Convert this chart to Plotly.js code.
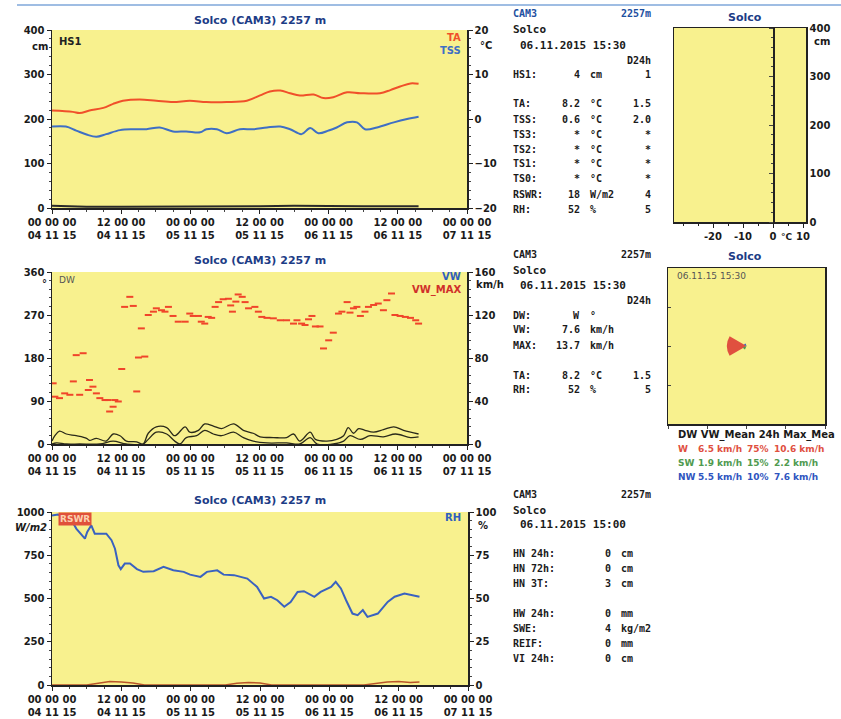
<!DOCTYPE html>
<html><head><meta charset="utf-8">
<script src="https://cdn.plot.ly/plotly-3.0.1.min.js"></script>
<style>html,body{margin:0;padding:0;background:#fff}#c{width:841px;height:719px}</style>
</head><body><div id="c"></div>
<script>
// ---------- data (hours since 04.11.15 00:00) ----------
const timeTicks = [0,12,24,36,48,60,72];
const timeTickText = ['00 00 00<br>04 11 15','12 00 00<br>04 11 15','00 00 00<br>05 11 15','12 00 00<br>05 11 15','00 00 00<br>06 11 15','12 00 00<br>06 11 15','00 00 00<br>07 11 15'];

const taHours = [0,3.6,4.8,6.5,8.9,10.6,12.3,15.2,18.1,21,23.9,26.8,30.3,33.8,36.1,37.8,39.6,41.3,43,45.4,47.1,48.8,51.2,53.5,56.9,58.7,60.4,62.2,63.6];
const taValues = [1.9,1.6,1.35,1.9,2.5,3.4,4.1,4.4,4.1,3.8,4.1,3.8,3.8,4.1,5.3,6.2,6.4,5.8,5.3,5.5,4.7,4.9,6.0,5.8,5.8,6.5,7.3,8.0,7.9];

const tssHours = [0,2.4,4.2,6,7.7,9.4,11.8,14.1,16.4,18.7,21,23.3,25.7,26.8,28.6,30.3,32.6,34.9,37.3,39.6,41.3,43.3,44.8,46.2,48,49.4,51.2,52.9,54.3,56.4,59.3,61.6,63.6];
const tssValues = [-1.7,-1.7,-2.6,-3.5,-4,-3.4,-2.5,-2.3,-2.3,-1.9,-2.8,-2.8,-3.0,-2.3,-2.3,-3.2,-2.3,-2.3,-1.9,-1.7,-2.3,-3.4,-2.0,-3.2,-2.6,-1.9,-0.75,-0.75,-2.3,-1.9,-0.75,0,0.5];

const hsHours = [0,6,12,18,24,30,36,42,48,54,60,63.6];
const hsValues = [5,3,3,3,4,3,4,5,4,4,4,4];

const dwHours = [0.2,0.5,1.3,2.2,3.1,3.7,4.2,4.8,5.4,6.3,6.5,7.1,7.7,8.3,9.2,9.7,10,10.6,10.9,11.5,12.1,12.6,13.5,14.1,14.7,15,15.5,16.1,16.7,17.6,18.1,19,19.6,20.2,21,21.9,23.1,23.9,24.5,25.4,25.9,26.5,27.1,27.7,28.3,28.9,29.7,30.6,31,31.3,31.9,32.3,33,33.5,34.1,35.2,35.8,36.4,37.3,38.4,39.6,40.7,41.9,42.5,43.3,43.9,44.5,45.1,45.7,46.5,47.1,48,48.8,49.7,50.3,51.2,51.7,52.3,52.9,53.5,54.3,54.9,55.8,56.6,57.5,58.1,58.9,59.5,60.4,61.3,62.2,63.1,63.6];
const dwValues = [127,99,96,106,103,131,186,103,190,113,134,120,106,96,92,92,68,78,92,89,157,287,308,289,110,181,242,183,270,277,284,280,277,287,268,256,256,273,268,268,256,252,266,264,287,297,303,304,290,277,298,313,308,297,284,287,277,266,264,263,259,259,252,259,252,249,261,268,246,246,200,217,233,273,277,297,275,284,287,268,277,287,291,294,280,301,315,270,268,266,264,259,252];

const vwMaxHours = [0,0.5,1.3,2.5,4.2,6,6.5,7.7,9.4,10.6,11.8,12.9,14.7,15.8,16.7,18.1,19.9,21.3,23.1,23.9,25.4,26.5,28,29.4,31.5,33.2,34.9,36.1,38.4,40.7,41.9,43,44.8,45.7,47.7,49.4,50.6,51.4,52.3,53.2,54.3,55.8,57.5,59.3,61,63.6];
const vwMaxValues = [2.7,7.7,12,9.3,7.7,5.3,3.3,5.3,2.7,9.3,7.7,2.7,2,0,10,16,15.3,7.7,16,11,12.7,18.7,16.7,14.3,18.7,12.7,10,6.7,6,6,9.3,2.7,11,4.3,2.7,4.3,7.7,15.3,10,14.3,12.7,11,13.3,16,12.7,9.3];

const vwHours = [0,0.8,2.5,4.8,8.3,10.6,12.9,15.8,16.7,18.1,19.9,21.3,22.2,23.3,25.1,26.5,28,29.4,31.5,33.2,34.9,37.3,40.7,43,44.8,46,48.8,50.6,51.7,53.5,55.2,57.5,59.6,62.2,63.6];
const vwValues = [0,1,0,0,0,2.7,0,0,4.3,11,9.3,2.7,0,6,7.7,12.7,9.3,7.7,11,6,2.7,1,1,0,6,0,0,2.7,7.7,4.3,7.7,6.7,9.3,6,6.7];

const rhHours = [0,1,1.9,3.1,4.2,5.7,6.1,6.8,7.4,8.3,9.4,10.3,10.9,11.5,11.9,12.6,13.5,14.7,15.8,17.6,19.3,21,22.8,23.9,25.7,26.8,28.6,29.7,31.5,33.8,35.5,36.7,37.9,39,40.2,41.3,42.5,43.6,45.4,46.5,48.3,49.1,50,50.9,52,52.9,53.8,54.6,56.4,58.1,59.3,61,62.2,63.6];
const rhValues = [98,98.5,97.5,97,90.4,84.6,88.5,92.3,87.5,87.5,87.5,83.7,78.8,69.2,67,70.2,70.2,67,65.4,65.8,68.3,66.3,65.4,63.8,62.5,65.4,66.3,63.8,63.5,61.5,56.7,50,51,49,45.2,48,53.8,54.2,51,53.8,56.7,59.6,55.8,49,41.3,40.4,43.3,39.4,41.3,48,51,52.9,51.9,51];

const rswrHours = [0,6,8,10,12,14,16,30,32,34,36,38,54,56,58,60,62,63.6];
const rswrValues = [0,0,10,20,18,12,0,0,10,15,12,0,0,8,18,20,15,18];

// wind rose (24h)
const roseDirs = ['W','SW','NW'];
const roseAngles = [270,225,315];
const roseFreq = [75,15,10];
const roseMean = ['6.5 km/h','1.9 km/h','5.5 km/h'];
const roseMax = ['10.6 km/h','2.2 km/h','7.6 km/h'];
const roseColors = ['#e0503f','#4f9a4f','#2f55c0'];

// text panels
const p1Labels = ['HS1:','TA:','TSS:','TS3:','TS2:','TS1:','TS0:','RSWR:','RH:'];
const p1Values = ['4','8.2','0.6','*','*','*','*','18','52'];
const p1Units  = ['cm','°C','°C','°C','°C','°C','°C','W/m2','%'];
const p1D24    = ['1','1.5','2.0','*','*','*','*','4','5'];
const p2Labels = ['DW:','VW:','MAX:','TA:','RH:'];
const p2Values = ['W','7.6','13.7','8.2','52'];
const p2Units  = ['°','km/h','km/h','°C','%'];
const p2D24    = ['','','','1.5','5'];
const p3Labels = ['HN 24h:','HN 72h:','HN 3T:','HW 24h:','SWE:','REIF:','VI 24h:'];
const p3Values = ['0','0','3','0','4','0','0'];
const p3Units  = ['cm','cm','cm','mm','kg/m2','mm','cm'];

// ---------- layout helpers ----------
const W = 841, H = 719;
const fx = p => p / W;
const fy = p => 1 - p / H;
const YEL = '#f8f18e';
const TXT = '#1a1a1a';
const tickFont = {family:'DejaVu Sans', size:10, color:TXT, weight:'bold'};
const monoFont = (c, s) => ({family:'DejaVu Sans Mono', size:s||11, color:c||TXT, weight:'bold'});
const ann = [];
function txt(x, y, text, font, xa, extra) {
  ann.push(Object.assign({xref:'paper', yref:'paper', x:fx(x), y:fy(y), text:text, showarrow:false,
    xanchor:xa||'left', yanchor:'middle', font:font||monoFont()}, extra||{}));
}

function timeAxis(x0, x1, anchor) {
  return {domain:[fx(x0), fx(x1)], anchor:anchor, range:[0,72], tickvals:timeTicks, ticktext:timeTickText,
    ticks:'outside', ticklen:4, tickcolor:'#222', showline:true, linecolor:'#222', linewidth:1.5,
    showgrid:false, zeroline:false, tickfont:tickFont, fixedrange:true,
    minor:{dtick:3, ticks:'outside', ticklen:2, tickcolor:'#444'}};
}
function valAxis(y0, y1, anchor, range, dtick, side, overlay, minorD) {
  const a = {range:range, dtick:dtick, tick0:range[0], ticks:'outside', ticklen:4, tickcolor:'#222', showline:true,
    linecolor:'#222', linewidth:1.5, showgrid:false, zeroline:false, tickfont:tickFont, side:side, anchor:anchor,
    minor:{dtick:minorD, ticks:'outside', ticklen:2, tickcolor:'#444'}};
  if (overlay) a.overlaying = overlay; else a.domain = [fy(y1), fy(y0)];
  return a;
}

const layout = {
  width:W, height:H, margin:{l:0,r:0,t:0,b:0}, paper_bgcolor:'#ffffff', plot_bgcolor:YEL,
  showlegend:false, font:{family:'DejaVu Sans', color:TXT},
  xaxis:  timeAxis(52, 467, 'y'),
  yaxis:  valAxis(30, 208, 'x', [0,400], 100, 'left', null, 20),
  yaxis2: valAxis(30, 208, 'x', [-20,20], 10, 'right', 'y', 2),
  xaxis2: timeAxis(52, 467, 'y3'),
  yaxis3: valAxis(272, 444, 'x2', [0,360], 90, 'left', null, 18),
  yaxis4: valAxis(272, 444, 'x2', [0,160], 40, 'right', 'y3', 8),
  xaxis3: timeAxis(52, 468, 'y5'),
  yaxis5: valAxis(512, 685, 'x3', [0,1000], 250, 'left', null, 50),
  yaxis6: valAxis(512, 685, 'x3', [0,100], 25, 'right', 'y5', 5),
  // snow profile
  xaxis4: {domain:[fx(674), fx(806)], anchor:'y8', range:[-33,11], tickvals:[-20,-10,0,10], ticktext:['-20','-10','0','10'],
    ticks:'outside', ticklen:4, tickcolor:'#222', showline:true, mirror:true, linecolor:'#222', linewidth:1.5,
    showgrid:false, zeroline:false, tickfont:tickFont, minor:{dtick:5, ticks:'outside', ticklen:2}},
  yaxis7: {domain:[fy(222), fy(28)], anchor:'free', position:fx(773), range:[0,400], dtick:100, ticks:'outside', ticklen:4,
    showline:true, linecolor:'#222', linewidth:1.5, showticklabels:false, showgrid:false, zeroline:false, side:'left',
    minor:{dtick:20, ticks:'outside', ticklen:2}},
  yaxis8: {overlaying:'y7', anchor:'x4', side:'right', range:[0,400], dtick:100, ticks:'', showline:true, mirror:true,
    linecolor:'#222', linewidth:1.5, showgrid:false, zeroline:false, tickfont:tickFont},
  // wind rose box
  xaxis5: {domain:[fx(668), fx(825)], anchor:'y9', range:[-1,1], dtick:0.5, ticks:'outside', ticklen:3, showticklabels:false,
    showline:true, mirror:true, linecolor:'#222', linewidth:1.5, showgrid:false, zeroline:false},
  yaxis9: {domain:[fy(424), fy(268)], anchor:'x5', range:[-1,1], dtick:0.5, ticks:'inside', ticklen:3, showticklabels:false,
    showline:true, mirror:true, linecolor:'#222', linewidth:1.5, showgrid:false, zeroline:false},
  polar: {domain:{x:[fx(668), fx(825)], y:[fy(424), fy(268)]}, bgcolor:'rgba(0,0,0,0)',
    angularaxis:{visible:false, direction:'clockwise', rotation:90},
    radialaxis:{visible:false, range:[0,300]}},
  shapes:[{type:'line', xref:'paper', yref:'paper', x0:fx(17), x1:1, y0:fy(5), y1:fy(5), line:{color:'#7fa7da', width:1.5}}],
  annotations: ann
};

// titles
const TITLE = {family:'DejaVu Sans', size:11, color:'#1d3c86', weight:'bold'};
txt(260, 20, 'Solco (CAM3) 2257 m', TITLE, 'center');
txt(260, 260, 'Solco (CAM3) 2257 m', TITLE, 'center');
txt(260, 500, 'Solco (CAM3) 2257 m', TITLE, 'center');
txt(745, 18, 'Solco', TITLE, 'center');
txt(745, 257, 'Solco', TITLE, 'center');

// units & in-plot legends
const small = {family:'DejaVu Sans', size:10, color:TXT, weight:'bold'};
txt(30, 46, 'cm', small);
txt(478, 45, '°C', small);
txt(40, 283, '°', small);
txt(474, 284, 'km/h', small);
txt(13, 527, 'W/m2', {family:'DejaVu Sans', size:10, color:TXT, weight:'bold', style:'italic'});
txt(476, 525, '%', small);
txt(812, 42, 'cm', small);
txt(779, 237, '°C', {family:'DejaVu Sans', size:9, color:TXT, weight:'bold'});
txt(57, 42, 'HS1', {family:'DejaVu Sans', size:10, color:'#222', weight:'bold'});
txt(463, 38, 'TA', {family:'DejaVu Sans', size:10, color:'#f0502a', weight:'bold'}, 'right');
txt(463, 51, 'TSS', {family:'DejaVu Sans', size:10, color:'#3f6fc4', weight:'bold'}, 'right');
txt(57, 280, 'DW', {family:'DejaVu Sans', size:9, color:'#555'});
txt(463, 276, 'VW', {family:'DejaVu Sans', size:10, color:'#2f5fbf', weight:'bold'}, 'right');
txt(463, 290, 'VW_MAX', {family:'DejaVu Sans', size:10, color:'#d0302a', weight:'bold'}, 'right');
txt(58, 519, 'RSWR', {family:'DejaVu Sans', size:9, color:'#fbd0b0', weight:'bold'}, 'left', {bgcolor:'#e0503a', borderpad:1});
txt(463, 517, 'RH', {family:'DejaVu Sans', size:10, color:'#2f5fbf', weight:'bold'}, 'right');
txt(675, 276, '06.11.15 15:30', {family:'DejaVu Sans', size:9, color:'#555'});

// text panel 1
txt(511, 14, 'CAM3', monoFont('#1d4fa0', 10));
txt(653, 14, '2257m', monoFont('#1d4fa0', 10), 'right');
txt(511, 30, 'Solco');
txt(518, 45, '06.11.2015 15:30');
txt(653, 60, 'D24h', monoFont(TXT, 10), 'right');
const p1Y = [74,104,119,134,149,164,179,194,209];
p1Labels.forEach((l, i) => {
  txt(511, p1Y[i], l, monoFont(TXT, 10));
  txt(582, p1Y[i], p1Values[i], monoFont(TXT, 10), 'right');
  txt(588, p1Y[i], p1Units[i], monoFont(TXT, 10));
  txt(653, p1Y[i], p1D24[i], monoFont(TXT, 10), 'right');
});
// text panel 2
txt(511, 255, 'CAM3', monoFont(TXT, 10));
txt(653, 255, '2257m', monoFont(TXT, 10), 'right');
txt(511, 270, 'Solco');
txt(518, 285, '06.11.2015 15:30');
txt(653, 300, 'D24h', monoFont(TXT, 10), 'right');
const p2Y = [315,330,345,375,390];
p2Labels.forEach((l, i) => {
  txt(511, p2Y[i], l, monoFont(TXT, 10));
  txt(582, p2Y[i], p2Values[i], monoFont(TXT, 10), 'right');
  txt(588, p2Y[i], p2Units[i], monoFont(TXT, 10));
  if (p2D24[i]) txt(653, p2Y[i], p2D24[i], monoFont(TXT, 10), 'right');
});
// text panel 3
txt(511, 494, 'CAM3', monoFont(TXT, 10));
txt(653, 494, '2257m', monoFont(TXT, 10), 'right');
txt(511, 510, 'Solco');
txt(518, 524, '06.11.2015 15:00');
const p3Y = [553,568,583,613,628,643,658];
p3Labels.forEach((l, i) => {
  txt(511, p3Y[i], l, monoFont(TXT, 10));
  txt(613, p3Y[i], p3Values[i], monoFont(TXT, 10), 'right');
  txt(619, p3Y[i], p3Units[i], monoFont(TXT, 10));
});
// wind rose table
txt(676, 435, 'DW VW_Mean 24h Max_Mea', {family:'DejaVu Sans', size:10, color:TXT, weight:'bold'});
roseDirs.forEach((d, i) => {
  const f = {family:'DejaVu Sans', size:9, color:roseColors[i], weight:'bold'};
  const y = 449 + i * 14;
  txt(676, y, d, f);
  txt(696, y, roseMean[i], f);
  txt(745, y, roseFreq[i] + '%', f);
  txt(772, y, roseMax[i], f);
});

// ---------- traces ----------
const traces = [
  {x:hsHours, y:hsValues, xaxis:'x', yaxis:'y', type:'scatter', mode:'lines', line:{color:'#2a2a2a', width:2}, hoverinfo:'skip'},
  {x:taHours, y:taValues, xaxis:'x', yaxis:'y2', type:'scatter', mode:'lines', line:{color:'#f0502a', width:2, shape:'spline'}},
  {x:tssHours, y:tssValues, xaxis:'x', yaxis:'y2', type:'scatter', mode:'lines', line:{color:'#3f6fc4', width:2, shape:'spline'}},
  {x:dwHours, y:dwValues, xaxis:'x2', yaxis:'y3', type:'scatter', mode:'markers',
    marker:{symbol:'line-ew', size:5, line:{color:'#f0452a', width:2}}},
  {x:vwMaxHours, y:vwMaxValues, xaxis:'x2', yaxis:'y4', type:'scatter', mode:'lines', line:{color:'#2a2a1a', width:1.3, shape:'spline'}},
  {x:vwHours, y:vwValues, xaxis:'x2', yaxis:'y4', type:'scatter', mode:'lines', line:{color:'#2a2a1a', width:1.3, shape:'spline'}},
  {x:rswrHours, y:rswrValues, xaxis:'x3', yaxis:'y5', type:'scatter', mode:'lines', line:{color:'#b8552a', width:1.5}},
  {x:rhHours, y:rhValues, xaxis:'x3', yaxis:'y6', type:'scatter', mode:'lines', line:{color:'#3a62c0', width:2}},
  {x:[], y:[], xaxis:'x4', yaxis:'y7', type:'scatter', mode:'lines'},
  {x:[], y:[], xaxis:'x4', yaxis:'y8', type:'scatter', mode:'lines'},
  {x:[], y:[], xaxis:'x5', yaxis:'y9', type:'scatter', mode:'lines'},
  {type:'barpolar', r:roseFreq, theta:roseAngles, width:[60,45,45], marker:{color:roseColors, line:{width:0}}, subplot:'polar'}
];

Plotly.newPlot('c', traces, layout, {staticPlot:true, displayModeBar:false});
</script>
</body></html>
